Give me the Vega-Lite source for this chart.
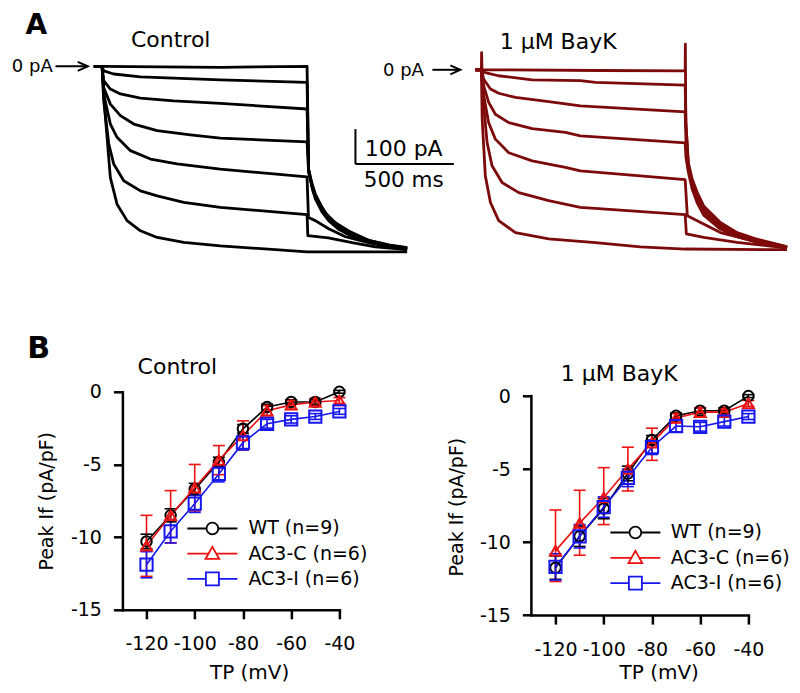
{
  "$schema": "https://vega.github.io/schema/vega-lite/v6.json",
  "background": "white",
  "padding": {"left": 11.4, "top": 11.3, "right": 0, "bottom": 0},
  "autosize": {"type": "pad"},
  "config": {
    "font": "DejaVu Sans",
    "view": {"stroke": null},
    "axis": {"domainColor": "#000", "domainWidth": 2.5, "domainCap": "square", "tickColor": "#000", "tickWidth": 2.5, "tickSize": 9, "labelFontSize": 19, "labelColor": "#000", "labelFont": "DejaVu Sans", "titleFont": "DejaVu Sans", "titleFontSize": 20, "titleColor": "#000", "titleFontWeight": "normal", "grid": false, "labelFlush": false, "labelOverlap": false},
    "axisX": {"labelPadding": 16},
    "axisY": {"labelPadding": 12, "titleFontSize": 19}
  },
  "datasets": {
    "ctl": [
      {"trace":1,"t":-42,"I":0},{"trace":1,"t":0,"I":0},{"trace":1,"t":601,"I":-3},{"trace":1,"t":1042,"I":0},{"trace":1,"t":1050,"I":-294},{"trace":1,"t":1068,"I":-337},{"trace":1,"t":1084,"I":-365},{"trace":1,"t":1118,"I":-403},{"trace":1,"t":1152,"I":-432},{"trace":1,"t":1203,"I":-456},{"trace":1,"t":1271,"I":-479},{"trace":1,"t":1355,"I":-497},{"trace":1,"t":1457,"I":-510},{"trace":1,"t":1551,"I":-518},
      {"trace":2,"t":-42,"I":0},{"trace":2,"t":0,"I":0},{"trace":2,"t":8,"I":-13},{"trace":2,"t":59,"I":-22},{"trace":2,"t":195,"I":-30},{"trace":2,"t":601,"I":-39},{"trace":2,"t":1042,"I":-46},{"trace":2,"t":1050,"I":-296},{"trace":2,"t":1069,"I":-350},{"trace":2,"t":1100,"I":-387},{"trace":2,"t":1135,"I":-419},{"trace":2,"t":1186,"I":-447},{"trace":2,"t":1262,"I":-473},{"trace":2,"t":1355,"I":-497},{"trace":2,"t":1457,"I":-511},{"trace":2,"t":1551,"I":-519},
      {"trace":3,"t":-42,"I":0},{"trace":3,"t":0,"I":0},{"trace":3,"t":8,"I":-41},{"trace":3,"t":42,"I":-65},{"trace":3,"t":93,"I":-79},{"trace":3,"t":195,"I":-91},{"trace":3,"t":364,"I":-99},{"trace":3,"t":601,"I":-106},{"trace":3,"t":1042,"I":-122},{"trace":3,"t":1050,"I":-299},{"trace":3,"t":1074,"I":-361},{"trace":3,"t":1110,"I":-401},{"trace":3,"t":1152,"I":-434},{"trace":3,"t":1203,"I":-460},{"trace":3,"t":1271,"I":-483},{"trace":3,"t":1355,"I":-500},{"trace":3,"t":1457,"I":-513},{"trace":3,"t":1551,"I":-520},
      {"trace":4,"t":-42,"I":0},{"trace":4,"t":0,"I":0},{"trace":4,"t":8,"I":-61},{"trace":4,"t":42,"I":-108},{"trace":4,"t":93,"I":-141},{"trace":4,"t":161,"I":-165},{"trace":4,"t":280,"I":-184},{"trace":4,"t":449,"I":-196},{"trace":4,"t":601,"I":-205},{"trace":4,"t":1042,"I":-216},{"trace":4,"t":1050,"I":-304},{"trace":4,"t":1084,"I":-379},{"trace":4,"t":1118,"I":-416},{"trace":4,"t":1152,"I":-441},{"trace":4,"t":1203,"I":-466},{"trace":4,"t":1271,"I":-487},{"trace":4,"t":1355,"I":-502},{"trace":4,"t":1457,"I":-514},{"trace":4,"t":1551,"I":-521},
      {"trace":5,"t":-42,"I":0},{"trace":5,"t":0,"I":0},{"trace":5,"t":8,"I":-79},{"trace":5,"t":42,"I":-165},{"trace":5,"t":76,"I":-203},{"trace":5,"t":144,"I":-241},{"trace":5,"t":246,"I":-265},{"trace":5,"t":381,"I":-279},{"trace":5,"t":601,"I":-294},{"trace":5,"t":1042,"I":-316},{"trace":5,"t":1049,"I":-432},{"trace":5,"t":1084,"I":-441},{"trace":5,"t":1152,"I":-464},{"trace":5,"t":1237,"I":-487},{"trace":5,"t":1354,"I":-504},{"trace":5,"t":1456,"I":-516},{"trace":5,"t":1551,"I":-523},
      {"trace":6,"t":-42,"I":0},{"trace":6,"t":0,"I":0},{"trace":6,"t":8,"I":-99},{"trace":6,"t":34,"I":-222},{"trace":6,"t":59,"I":-279},{"trace":6,"t":110,"I":-327},{"trace":6,"t":195,"I":-356},{"trace":6,"t":280,"I":-370},{"trace":6,"t":415,"I":-389},{"trace":6,"t":601,"I":-403},{"trace":6,"t":1042,"I":-424},{"trace":6,"t":1046,"I":-484},{"trace":6,"t":1150,"I":-490},{"trace":6,"t":1271,"I":-504},{"trace":6,"t":1389,"I":-516},{"trace":6,"t":1551,"I":-524},
      {"trace":7,"t":-42,"I":0},{"trace":7,"t":0,"I":0},{"trace":7,"t":17,"I":-146},{"trace":7,"t":42,"I":-318},{"trace":7,"t":76,"I":-394},{"trace":7,"t":127,"I":-441},{"trace":7,"t":195,"I":-470},{"trace":7,"t":280,"I":-489},{"trace":7,"t":415,"I":-503},{"trace":7,"t":601,"I":-513},{"trace":7,"t":1042,"I":-530},{"trace":7,"t":1551,"I":-530}
    ],
    "bay": [
      {"trace":1,"t":-30,"I":0},{"trace":1,"t":0,"I":0},{"trace":1,"t":1,"I":49},{"trace":1,"t":3,"I":0},{"trace":1,"t":600,"I":-2},{"trace":1,"t":1036,"I":-3},{"trace":1,"t":1037,"I":73},{"trace":1,"t":1039,"I":-150},{"trace":1,"t":1052,"I":-265},{"trace":1,"t":1071,"I":-311},{"trace":1,"t":1097,"I":-350},{"trace":1,"t":1130,"I":-389},{"trace":1,"t":1215,"I":-436},{"trace":1,"t":1300,"I":-465},{"trace":1,"t":1402,"I":-484},{"trace":1,"t":1537,"I":-503},{"trace":1,"t":1554,"I":-506},
      {"trace":2,"t":-30,"I":0},{"trace":2,"t":0,"I":0},{"trace":2,"t":20,"I":-8},{"trace":2,"t":86,"I":-17},{"trace":2,"t":258,"I":-29},{"trace":2,"t":503,"I":-31},{"trace":2,"t":580,"I":-36},{"trace":2,"t":1036,"I":-44},{"trace":2,"t":1040,"I":-150},{"trace":2,"t":1052,"I":-272},{"trace":2,"t":1071,"I":-320},{"trace":2,"t":1097,"I":-360},{"trace":2,"t":1130,"I":-398},{"trace":2,"t":1215,"I":-443},{"trace":2,"t":1300,"I":-469},{"trace":2,"t":1402,"I":-487},{"trace":2,"t":1537,"I":-504},{"trace":2,"t":1554,"I":-507},
      {"trace":3,"t":-30,"I":0},{"trace":3,"t":0,"I":0},{"trace":3,"t":12,"I":-27},{"trace":3,"t":46,"I":-55},{"trace":3,"t":88,"I":-67},{"trace":3,"t":173,"I":-79},{"trace":3,"t":342,"I":-91},{"trace":3,"t":503,"I":-103},{"trace":3,"t":1036,"I":-120},{"trace":3,"t":1040,"I":-200},{"trace":3,"t":1052,"I":-280},{"trace":3,"t":1071,"I":-330},{"trace":3,"t":1097,"I":-370},{"trace":3,"t":1130,"I":-406},{"trace":3,"t":1215,"I":-449},{"trace":3,"t":1300,"I":-473},{"trace":3,"t":1402,"I":-490},{"trace":3,"t":1537,"I":-505},{"trace":3,"t":1554,"I":-508},
      {"trace":4,"t":-30,"I":0},{"trace":4,"t":0,"I":0},{"trace":4,"t":12,"I":-46},{"trace":4,"t":37,"I":-93},{"trace":4,"t":71,"I":-127},{"trace":4,"t":139,"I":-151},{"trace":4,"t":258,"I":-168},{"trace":4,"t":427,"I":-179},{"trace":4,"t":503,"I":-189},{"trace":4,"t":1036,"I":-209},{"trace":4,"t":1040,"I":-250},{"trace":4,"t":1052,"I":-292},{"trace":4,"t":1071,"I":-340},{"trace":4,"t":1097,"I":-380},{"trace":4,"t":1130,"I":-415},{"trace":4,"t":1215,"I":-455},{"trace":4,"t":1300,"I":-477},{"trace":4,"t":1402,"I":-493},{"trace":4,"t":1537,"I":-506},{"trace":4,"t":1554,"I":-509},
      {"trace":5,"t":-30,"I":0},{"trace":5,"t":0,"I":0},{"trace":5,"t":12,"I":-74},{"trace":5,"t":37,"I":-151},{"trace":5,"t":71,"I":-198},{"trace":5,"t":139,"I":-237},{"trace":5,"t":258,"I":-260},{"trace":5,"t":427,"I":-279},{"trace":5,"t":503,"I":-289},{"trace":5,"t":1036,"I":-314},{"trace":5,"t":1047,"I":-417},{"trace":5,"t":1097,"I":-431},{"trace":5,"t":1215,"I":-465},{"trace":5,"t":1383,"I":-489},{"trace":5,"t":1535,"I":-505},{"trace":5,"t":1554,"I":-507},
      {"trace":6,"t":-30,"I":0},{"trace":6,"t":0,"I":0},{"trace":6,"t":12,"I":-103},{"trace":6,"t":29,"I":-208},{"trace":6,"t":54,"I":-274},{"trace":6,"t":105,"I":-322},{"trace":6,"t":190,"I":-351},{"trace":6,"t":342,"I":-374},{"trace":6,"t":503,"I":-393},{"trace":6,"t":1036,"I":-414},{"trace":6,"t":1042,"I":-469},{"trace":6,"t":1130,"I":-479},{"trace":6,"t":1300,"I":-493},{"trace":6,"t":1535,"I":-508},{"trace":6,"t":1554,"I":-509},
      {"trace":7,"t":-30,"I":0},{"trace":7,"t":0,"I":0},{"trace":7,"t":4,"I":-141},{"trace":7,"t":20,"I":-303},{"trace":7,"t":46,"I":-379},{"trace":7,"t":88,"I":-431},{"trace":7,"t":173,"I":-465},{"trace":7,"t":342,"I":-483},{"trace":7,"t":580,"I":-494},{"trace":7,"t":808,"I":-506},{"trace":7,"t":1036,"I":-512},{"trace":7,"t":1554,"I":-514}
    ],
    "iv": [
      {"cond":"Control","series":"WT (n=9)","V":-120,"mean":-10.3,"lo":-10.8,"hi":-9.8},{"cond":"Control","series":"WT (n=9)","V":-110,"mean":-8.5,"lo":-8.95,"hi":-8.05},{"cond":"Control","series":"WT (n=9)","V":-100,"mean":-6.7,"lo":-7.1,"hi":-6.3},{"cond":"Control","series":"WT (n=9)","V":-90,"mean":-4.85,"lo":-5.2,"hi":-4.5},{"cond":"Control","series":"WT (n=9)","V":-80,"mean":-2.55,"lo":-2.85,"hi":-2.25},{"cond":"Control","series":"WT (n=9)","V":-70,"mean":-1.05,"lo":-1.25,"hi":-0.85},{"cond":"Control","series":"WT (n=9)","V":-60,"mean":-0.7,"lo":-0.85,"hi":-0.55},{"cond":"Control","series":"WT (n=9)","V":-50,"mean":-0.7,"lo":-0.85,"hi":-0.55},{"cond":"Control","series":"WT (n=9)","V":-40,"mean":0.0,"lo":-0.1,"hi":0.1},
      {"cond":"Control","series":"AC3-C (n=6)","V":-120,"mean":-10.6,"lo":-12.7,"hi":-8.5},{"cond":"Control","series":"AC3-C (n=6)","V":-110,"mean":-8.5,"lo":-10.4,"hi":-6.8},{"cond":"Control","series":"AC3-C (n=6)","V":-100,"mean":-6.6,"lo":-8.2,"hi":-5.0},{"cond":"Control","series":"AC3-C (n=6)","V":-90,"mean":-4.7,"lo":-5.7,"hi":-3.7},{"cond":"Control","series":"AC3-C (n=6)","V":-80,"mean":-3.0,"lo":-4.0,"hi":-2.0},{"cond":"Control","series":"AC3-C (n=6)","V":-70,"mean":-1.3,"lo":-1.65,"hi":-0.95},{"cond":"Control","series":"AC3-C (n=6)","V":-60,"mean":-0.9,"lo":-1.2,"hi":-0.6},{"cond":"Control","series":"AC3-C (n=6)","V":-50,"mean":-0.7,"lo":-0.95,"hi":-0.45},{"cond":"Control","series":"AC3-C (n=6)","V":-40,"mean":-0.6,"lo":-0.8,"hi":-0.4},
      {"cond":"Control","series":"AC3-I (n=6)","V":-120,"mean":-11.9,"lo":-12.8,"hi":-11.0},{"cond":"Control","series":"AC3-I (n=6)","V":-110,"mean":-9.6,"lo":-10.4,"hi":-8.8},{"cond":"Control","series":"AC3-I (n=6)","V":-100,"mean":-7.7,"lo":-8.3,"hi":-7.1},{"cond":"Control","series":"AC3-I (n=6)","V":-90,"mean":-5.65,"lo":-6.2,"hi":-5.1},{"cond":"Control","series":"AC3-I (n=6)","V":-80,"mean":-3.5,"lo":-4.0,"hi":-3.0},{"cond":"Control","series":"AC3-I (n=6)","V":-70,"mean":-2.2,"lo":-2.5,"hi":-1.9},{"cond":"Control","series":"AC3-I (n=6)","V":-60,"mean":-1.9,"lo":-2.15,"hi":-1.65},{"cond":"Control","series":"AC3-I (n=6)","V":-50,"mean":-1.7,"lo":-1.9,"hi":-1.5},{"cond":"Control","series":"AC3-I (n=6)","V":-40,"mean":-1.35,"lo":-1.55,"hi":-1.15},
      {"cond":"BayK","series":"WT (n=9)","V":-120,"mean":-11.75,"lo":-12.55,"hi":-10.95},{"cond":"BayK","series":"WT (n=9)","V":-110,"mean":-9.6,"lo":-10.3,"hi":-8.9},{"cond":"BayK","series":"WT (n=9)","V":-100,"mean":-7.7,"lo":-8.4,"hi":-7.0},{"cond":"BayK","series":"WT (n=9)","V":-90,"mean":-5.3,"lo":-5.8,"hi":-4.8},{"cond":"BayK","series":"WT (n=9)","V":-80,"mean":-3.0,"lo":-3.3,"hi":-2.7},{"cond":"BayK","series":"WT (n=9)","V":-70,"mean":-1.35,"lo":-1.55,"hi":-1.15},{"cond":"BayK","series":"WT (n=9)","V":-60,"mean":-1.0,"lo":-1.2,"hi":-0.8},{"cond":"BayK","series":"WT (n=9)","V":-50,"mean":-1.0,"lo":-1.2,"hi":-0.8},{"cond":"BayK","series":"WT (n=9)","V":-40,"mean":0.0,"lo":-0.1,"hi":0.1},
      {"cond":"BayK","series":"AC3-C (n=6)","V":-120,"mean":-10.6,"lo":-12.7,"hi":-7.8},{"cond":"BayK","series":"AC3-C (n=6)","V":-110,"mean":-8.7,"lo":-10.9,"hi":-6.45},{"cond":"BayK","series":"AC3-C (n=6)","V":-100,"mean":-6.95,"lo":-8.8,"hi":-4.9},{"cond":"BayK","series":"AC3-C (n=6)","V":-90,"mean":-5.0,"lo":-6.5,"hi":-3.5},{"cond":"BayK","series":"AC3-C (n=6)","V":-80,"mean":-3.2,"lo":-4.4,"hi":-2.2},{"cond":"BayK","series":"AC3-C (n=6)","V":-70,"mean":-1.5,"lo":-1.8,"hi":-1.2},{"cond":"BayK","series":"AC3-C (n=6)","V":-60,"mean":-1.1,"lo":-1.4,"hi":-0.8},{"cond":"BayK","series":"AC3-C (n=6)","V":-50,"mean":-1.1,"lo":-1.3,"hi":-0.9},{"cond":"BayK","series":"AC3-C (n=6)","V":-40,"mean":-0.5,"lo":-0.7,"hi":-0.3},
      {"cond":"BayK","series":"AC3-I (n=6)","V":-120,"mean":-11.7,"lo":-12.6,"hi":-10.8},{"cond":"BayK","series":"AC3-I (n=6)","V":-110,"mean":-9.6,"lo":-10.4,"hi":-8.8},{"cond":"BayK","series":"AC3-I (n=6)","V":-100,"mean":-7.6,"lo":-8.3,"hi":-6.9},{"cond":"BayK","series":"AC3-I (n=6)","V":-90,"mean":-5.6,"lo":-6.2,"hi":-5.0},{"cond":"BayK","series":"AC3-I (n=6)","V":-80,"mean":-3.5,"lo":-4.0,"hi":-3.0},{"cond":"BayK","series":"AC3-I (n=6)","V":-70,"mean":-2.05,"lo":-2.45,"hi":-1.65},{"cond":"BayK","series":"AC3-I (n=6)","V":-60,"mean":-2.1,"lo":-2.4,"hi":-1.8},{"cond":"BayK","series":"AC3-I (n=6)","V":-50,"mean":-1.75,"lo":-2.05,"hi":-1.45},{"cond":"BayK","series":"AC3-I (n=6)","V":-40,"mean":-1.4,"lo":-1.6,"hi":-1.2}
    ]
  },
  "columns": 2,
  "bounds": "flush",
  "spacing": {"row": 140.5, "column": 192},
  "resolve": {"scale": {"x": "independent", "y": "independent", "color": "independent", "shape": "independent"}, "legend": {"color": "independent", "shape": "independent"}, "axis": {"x": "independent", "y": "independent"}},
  "concat": [
    {
      "width": 217, "height": 185,
      "layer": [
        {"data": {"name": "ctl"}, "mark": {"type": "line", "color": "#000", "strokeWidth": 2.8, "strokeJoin": "round"},
         "encoding": {"x": {"field": "t", "type": "quantitative", "scale": {"domain": [103.2, 1206.4], "nice": false, "zero": false}, "axis": null},
                      "y": {"field": "I", "type": "quantitative", "scale": {"domain": [-528.6, 0], "nice": false, "zero": false}, "axis": null},
                      "detail": {"field": "trace", "type": "nominal"}}},
        {"data": {"values": [{}]}, "mark": {"type": "text", "text": "A", "fontSize": 28, "fontWeight": "bold", "align": "left", "baseline": "alphabetic", "color": "#000"},
         "encoding": {"x": {"datum": -390, "axis": null}, "y": {"datum": 92, "axis": null}}},
        {"data": {"values": [{}]}, "mark": {"type": "text", "text": "Control", "fontSize": 22, "align": "left", "baseline": "alphabetic", "color": "#000"},
         "encoding": {"x": {"datum": 147, "axis": null}, "y": {"datum": 55.7, "axis": null}}},
        {"data": {"values": [{}]}, "mark": {"type": "text", "text": "0 pA", "fontSize": 18, "align": "left", "baseline": "alphabetic", "color": "#000"},
         "encoding": {"x": {"datum": -459, "axis": null}, "y": {"datum": -15.7, "axis": null}}},
        {"data": {"values": [{}]}, "mark": {"type": "rule", "color": "#000", "strokeWidth": 2},
         "encoding": {"x": {"datum": -237, "axis": null}, "x2": {"datum": -75}, "y": {"datum": 0, "axis": null}}},
        {"data": {"values": [{}]}, "mark": {"type": "point", "shape": "M-1,-0.45L0,0L-1,0.45", "size": 400, "filled": false, "color": "#000", "strokeWidth": 2, "opacity": 1},
         "encoding": {"x": {"datum": -73, "axis": null}, "y": {"datum": 0, "axis": null}}},
        {"data": {"values": [{}]}, "mark": {"type": "rule", "color": "#000", "strokeWidth": 2},
         "encoding": {"x": {"datum": 1288, "axis": null}, "y": {"datum": -179.4, "axis": null}, "y2": {"datum": -279.4}}},
        {"data": {"values": [{}]}, "mark": {"type": "rule", "color": "#000", "strokeWidth": 2},
         "encoding": {"x": {"datum": 1288, "axis": null}, "x2": {"datum": 1788}, "y": {"datum": -279.4, "axis": null}}},
        {"data": {"values": [{}]}, "mark": {"type": "text", "text": "100 pA", "fontSize": 22, "align": "left", "baseline": "alphabetic", "color": "#000"},
         "encoding": {"x": {"datum": 1335, "axis": null}, "y": {"datum": -257.7, "axis": null}}},
        {"data": {"values": [{}]}, "mark": {"type": "text", "text": "500 ms", "fontSize": 21.5, "align": "left", "baseline": "alphabetic", "color": "#000"},
         "encoding": {"x": {"datum": 1330, "axis": null}, "y": {"datum": -346.3, "axis": null}}}
      ]
    },
    {
      "width": 217, "height": 185,
      "layer": [
        {"data": {"name": "bay"}, "mark": {"type": "line", "color": "#7d0a0a", "strokeWidth": 2.8, "strokeJoin": "round"},
         "encoding": {"x": {"field": "t", "type": "quantitative", "scale": {"domain": [254.2, 1357.4], "nice": false, "zero": false}, "axis": null},
                      "y": {"field": "I", "type": "quantitative", "scale": {"domain": [-518.5, 10], "nice": false, "zero": false}, "axis": null},
                      "detail": {"field": "trace", "type": "nominal"}}},
        {"data": {"values": [{}]}, "mark": {"type": "text", "text": "1 μM BayK", "fontSize": 22, "align": "left", "baseline": "alphabetic", "color": "#000"},
         "encoding": {"x": {"datum": 93, "axis": null}, "y": {"datum": 59.1, "axis": null}}},
        {"data": {"values": [{}]}, "mark": {"type": "text", "text": "0 pA", "fontSize": 18, "align": "left", "baseline": "alphabetic", "color": "#000"},
         "encoding": {"x": {"datum": -500, "axis": null}, "y": {"datum": -17, "axis": null}}},
        {"data": {"values": [{}]}, "mark": {"type": "rule", "color": "#000", "strokeWidth": 2},
         "encoding": {"x": {"datum": -249, "axis": null}, "x2": {"datum": -109}, "y": {"datum": 0, "axis": null}}},
        {"data": {"values": [{}]}, "mark": {"type": "point", "shape": "M-1,-0.45L0,0L-1,0.45", "size": 400, "filled": false, "color": "#000", "strokeWidth": 2, "opacity": 1},
         "encoding": {"x": {"datum": -107, "axis": null}, "y": {"datum": 0, "axis": null}}}
      ]
    },
    {
      "width": 217, "height": 218,
      "data": {"name": "iv"},
      "encoding": {
        "x": {"field": "V", "type": "quantitative", "scale": {"domain": [-130, -40], "nice": false, "zero": false},
              "axis": {"values": [-120, -100, -80, -60, -40], "labelExpr": "toString(datum.value)", "title": "TP (mV)", "titleX": 126.7, "titleY": 68.6, "titleBaseline": "alphabetic", "titleAlign": "center"}},
        "y": {"field": "mean", "type": "quantitative", "scale": {"domain": [-15, 0], "nice": false, "zero": false},
              "axis": {"values": [0, -5, -10, -15], "labelExpr": "toString(datum.value)", "title": "Peak If (pA/pF)", "titleX": -69.8, "titleY": 109, "titleAngle": -90, "titleBaseline": "alphabetic", "titleAlign": "center"}},
        "color": {"field": "series", "type": "nominal", "scale": {"domain": ["WT (n=9)", "AC3-C (n=6)", "AC3-I (n=6)"], "range": ["#000000", "#ee1111", "#1616ee"]},
                  "legend": {"orient": "none", "legendX": 76.5, "legendY": 123.2, "title": null, "symbolSize": 625, "labelOffset": 22.5, "rowPadding": 1.2, "padding": 0, "labelFontSize": 19, "labelFont": "DejaVu Sans", "labelColor": "#000", "symbolStrokeWidth": 1.8, "symbolFillColor": "transparent", "symbolOpacity": 1,
                             "encode": {"symbols": {"update": {"fill": {"value": "transparent"}, "opacity": {"value": 1}, "strokeWidth": {"value": 1.8}}}}}}
      },
      "layer": [
        {"transform": [{"filter": "datum.cond === 'Control'"}], "mark": {"type": "rule", "strokeWidth": 1.6},
         "encoding": {"y": {"field": "lo", "type": "quantitative"}, "y2": {"field": "hi"}}},
        {"transform": [{"filter": "datum.cond === 'Control'"}], "mark": {"type": "point", "shape": "M-1,0H1", "size": 144, "filled": false, "strokeWidth": 1.6, "opacity": 1},
         "encoding": {"y": {"field": "lo", "type": "quantitative"}}},
        {"transform": [{"filter": "datum.cond === 'Control'"}], "mark": {"type": "point", "shape": "M-1,0H1", "size": 144, "filled": false, "strokeWidth": 1.6, "opacity": 1},
         "encoding": {"y": {"field": "hi", "type": "quantitative"}}},
        {"transform": [{"filter": "datum.cond === 'Control'"}], "mark": {"type": "line", "strokeWidth": 1.6}},
        {"transform": [{"filter": "datum.cond === 'Control' && datum.series === 'WT (n=9)'"}], "mark": {"type": "point", "shape": "circle", "filled": false, "size": 110, "strokeWidth": 2, "opacity": 1}},
        {"transform": [{"filter": "datum.cond === 'Control' && datum.series === 'AC3-C (n=6)'"}], "mark": {"type": "point", "shape": "triangle-up", "filled": false, "size": 120, "strokeWidth": 2, "opacity": 1}},
        {"transform": [{"filter": "datum.cond === 'Control' && datum.series === 'AC3-I (n=6)'"}], "mark": {"type": "point", "shape": "square", "filled": false, "size": 150, "strokeWidth": 2, "opacity": 1}},
        {"transform": [{"filter": "datum.cond === 'Control'"}], "mark": {"type": "point", "filled": false, "opacity": 0},
         "encoding": {"shape": {"field": "series", "type": "nominal", "scale": {"domain": ["WT (n=9)", "AC3-C (n=6)", "AC3-I (n=6)"], "range": ["M-2,0H-0.47M0.47,0H2M0.47,0A0.47,0.47,0,1,1,-0.47,0A0.47,0.47,0,1,1,0.47,0Z", "M-2,0H-0.3M0.3,0H2M0,-0.55L0.55,0.42L-0.55,0.42Z", "M-2,0H-0.52M0.52,0H2M-0.52,-0.52H0.52V0.52H-0.52Z"]},
                    "legend": {"orient": "none", "legendX": 76.5, "legendY": 123.2, "title": null, "symbolSize": 625, "labelOffset": 22.5, "rowPadding": 1.2, "padding": 0, "labelFontSize": 19, "labelFont": "DejaVu Sans", "labelColor": "#000", "symbolStrokeWidth": 1.8, "symbolFillColor": "transparent", "symbolOpacity": 1}}}},
        {"transform": [{"filter": "datum.cond === 'Control' && datum.V === -40 && datum.series === 'WT (n=9)'"}], "mark": {"type": "text", "text": "B", "fontSize": 30, "fontWeight": "bold", "align": "left", "baseline": "alphabetic"},
         "encoding": {"x": {"datum": -169.5}, "y": {"datum": 2.32}, "color": {"value": "#000"}}},
        {"transform": [{"filter": "datum.cond === 'Control' && datum.V === -40 && datum.series === 'WT (n=9)'"}], "mark": {"type": "text", "text": "Control", "fontSize": 22, "align": "left", "baseline": "alphabetic"},
         "encoding": {"x": {"datum": -123.7}, "y": {"datum": 1.22}, "color": {"value": "#000"}}}
      ]
    },
    {
      "width": 217, "height": 223.3,
      "data": {"name": "iv"},
      "encoding": {
        "x": {"field": "V", "type": "quantitative", "scale": {"domain": [-130, -40], "nice": false, "zero": false},
              "axis": {"values": [-120, -100, -80, -60, -40], "labelExpr": "toString(datum.value)", "title": "TP (mV)", "titleX": 127.3, "titleY": 63.3, "titleBaseline": "alphabetic", "titleAlign": "center"}},
        "y": {"field": "mean", "type": "quantitative", "scale": {"domain": [-15, 0.295], "nice": false, "zero": false},
              "axis": {"values": [0, -5, -10, -15], "domain": false, "labelExpr": "toString(datum.value)", "title": "Peak If (pA/pF)", "titleX": -68.8, "titleY": 114.8, "titleAngle": -90, "titleBaseline": "alphabetic", "titleAlign": "center"}},
        "color": {"field": "series", "type": "nominal", "scale": {"domain": ["WT (n=9)", "AC3-C (n=6)", "AC3-I (n=6)"], "range": ["#000000", "#ee1111", "#1616ee"]},
                  "legend": {"orient": "none", "legendX": 90.5, "legendY": 127.2, "title": null, "symbolSize": 625, "labelOffset": 21.9, "rowPadding": 1.3, "padding": 0, "labelFontSize": 19, "labelFont": "DejaVu Sans", "labelColor": "#000", "symbolStrokeWidth": 1.8, "symbolFillColor": "transparent", "symbolOpacity": 1,
                             "encode": {"symbols": {"update": {"fill": {"value": "transparent"}, "opacity": {"value": 1}, "strokeWidth": {"value": 1.8}}}}}}
      },
      "layer": [
        {"transform": [{"filter": "datum.cond === 'BayK' && datum.V === -40 && datum.series === 'WT (n=9)'"}], "mark": {"type": "rule", "strokeWidth": 2.5, "strokeCap": "square"},
         "encoding": {"x": {"datum": -130}, "y": {"datum": 0}, "y2": {"datum": -15}, "color": {"value": "#000"}}},
        {"transform": [{"filter": "datum.cond === 'BayK'"}], "mark": {"type": "rule", "strokeWidth": 1.6},
         "encoding": {"y": {"field": "lo", "type": "quantitative"}, "y2": {"field": "hi"}}},
        {"transform": [{"filter": "datum.cond === 'BayK'"}], "mark": {"type": "point", "shape": "M-1,0H1", "size": 144, "filled": false, "strokeWidth": 1.6, "opacity": 1},
         "encoding": {"y": {"field": "lo", "type": "quantitative"}}},
        {"transform": [{"filter": "datum.cond === 'BayK'"}], "mark": {"type": "point", "shape": "M-1,0H1", "size": 144, "filled": false, "strokeWidth": 1.6, "opacity": 1},
         "encoding": {"y": {"field": "hi", "type": "quantitative"}}},
        {"transform": [{"filter": "datum.cond === 'BayK'"}], "mark": {"type": "line", "strokeWidth": 1.6}},
        {"transform": [{"filter": "datum.cond === 'BayK' && datum.series === 'WT (n=9)'"}], "mark": {"type": "point", "shape": "circle", "filled": false, "size": 110, "strokeWidth": 2, "opacity": 1}},
        {"transform": [{"filter": "datum.cond === 'BayK' && datum.series === 'AC3-C (n=6)'"}], "mark": {"type": "point", "shape": "triangle-up", "filled": false, "size": 120, "strokeWidth": 2, "opacity": 1}},
        {"transform": [{"filter": "datum.cond === 'BayK' && datum.series === 'AC3-I (n=6)'"}], "mark": {"type": "point", "shape": "square", "filled": false, "size": 150, "strokeWidth": 2, "opacity": 1}},
        {"transform": [{"filter": "datum.cond === 'BayK'"}], "mark": {"type": "point", "filled": false, "opacity": 0},
         "encoding": {"shape": {"field": "series", "type": "nominal", "scale": {"domain": ["WT (n=9)", "AC3-C (n=6)", "AC3-I (n=6)"], "range": ["M-2,0H-0.47M0.47,0H2M0.47,0A0.47,0.47,0,1,1,-0.47,0A0.47,0.47,0,1,1,0.47,0Z", "M-2,0H-0.3M0.3,0H2M0,-0.55L0.55,0.42L-0.55,0.42Z", "M-2,0H-0.52M0.52,0H2M-0.52,-0.52H0.52V0.52H-0.52Z"]},
                    "legend": {"orient": "none", "legendX": 90.5, "legendY": 127.2, "title": null, "symbolSize": 625, "labelOffset": 21.9, "rowPadding": 1.3, "padding": 0, "labelFontSize": 19, "labelFont": "DejaVu Sans", "labelColor": "#000", "symbolStrokeWidth": 1.8, "symbolFillColor": "transparent", "symbolOpacity": 1}}}},
        {"transform": [{"filter": "datum.cond === 'BayK' && datum.V === -40 && datum.series === 'WT (n=9)'"}], "mark": {"type": "text", "text": "1 μM BayK", "fontSize": 22, "align": "left", "baseline": "alphabetic"},
         "encoding": {"x": {"datum": -117.8}, "y": {"datum": 1.05}, "color": {"value": "#000"}}}
      ]
    }
  ]
}
